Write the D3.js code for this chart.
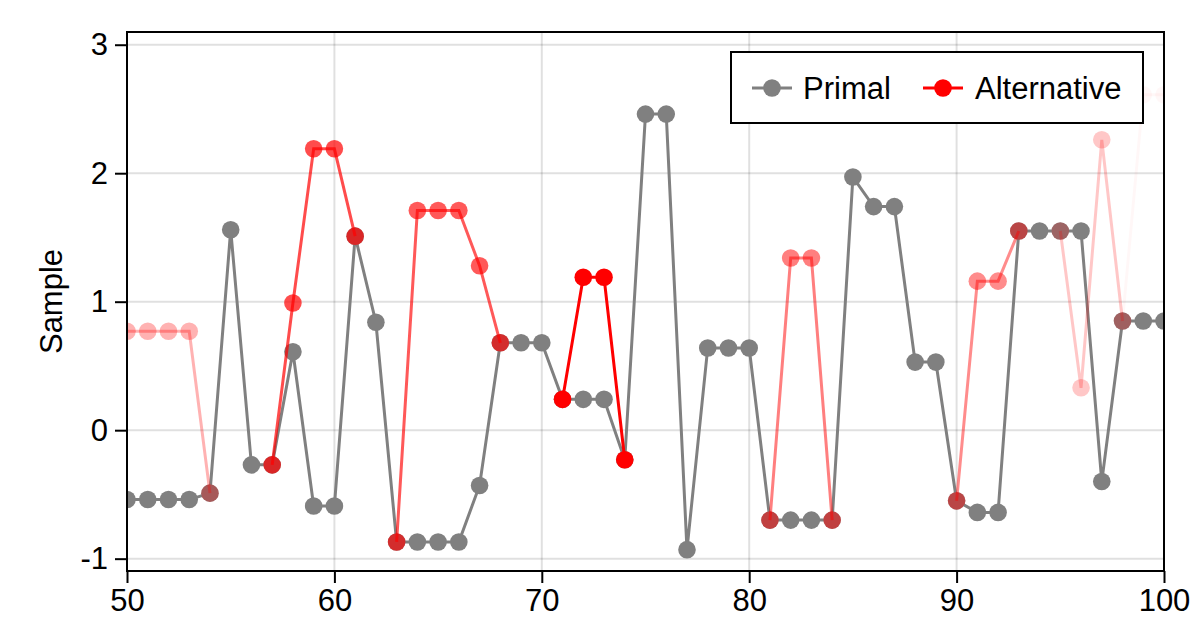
<!DOCTYPE html>
<html>
<head>
<meta charset="utf-8">
<script src="https://cdn.jsdelivr.net/npm/d3@7"></script>
<style>
  body { margin: 0; background: #fff; }
  text { font-family: "Liberation Sans", Arial, sans-serif; fill: #000; }
</style>
</head>
<body>
<div id="container"></div>
<script>
/* CONSTANTS AND GLOBALS */
const width = 1196,
  height = 620,
  margin = { top: 32, bottom: 49, left: 127, right: 32 };

// x positions (sample index) 50..100
const steps = [50, 51, 52, 53, 54, 55, 56, 57, 58, 59, 60, 61, 62, 63, 64, 65, 66, 67, 68, 69, 70,
  71, 72, 73, 74, 75, 76, 77, 78, 79, 80, 81, 82, 83, 84, 85, 86, 87, 88, 89, 90,
  91, 92, 93, 94, 95, 96, 97, 98, 99, 100];

// primal chain
const primal = [-0.54, -0.54, -0.54, -0.54, -0.49, 1.56, -0.27, -0.27, 0.61, -0.59, -0.59,
  1.51, 0.84, -0.87, -0.87, -0.87, -0.87, -0.43, 0.68, 0.68, 0.68,
  0.24, 0.24, 0.24, -0.23, 2.46, 2.46, -0.93, 0.64, 0.64, 0.64,
  -0.70, -0.70, -0.70, -0.70, 1.97, 1.74, 1.74, 0.53, 0.53, -0.55,
  -0.64, -0.64, 1.55, 1.55, 1.55, 1.55, -0.40, 0.85, 0.85, 0.85];

// alternative chain pieces: first step of each piece and its values
const altStart = [50, 57, 63, 71, 81, 90, 95, 98];
const altValues = [
  [0.77, 0.77, 0.77, 0.77, -0.49],
  [-0.27, 0.99, 2.19, 2.19, 1.51],
  [-0.87, 1.71, 1.71, 1.71, 1.28, 0.68],
  [0.24, 1.19, 1.19, -0.23],
  [-0.70, 1.34, 1.34, -0.70],
  [-0.55, 1.16, 1.16, 1.55],
  [1.55, 0.33, 2.26, 0.85],
  [0.85, 2.61, 2.61]
];
const altAlpha = [0.3, 0.7, 0.65, 1, 0.5, 0.45, 0.22, 0.03];

const xTicks = [50, 60, 70, 80, 90, 100];
const yTicks = [-1, 0, 1, 2, 3];

const svg = d3.select("#container")
  .append("svg")
  .attr("width", width)
  .attr("height", height);

const x = d3.scaleLinear()
  .domain([50, 100])
  .range([margin.left, width - margin.right]);

const y = d3.scaleLinear()
  .domain([-1.096, 3.099])
  .range([height - margin.bottom, margin.top]);

const pw = width - margin.right - margin.left,
  ph = height - margin.bottom - margin.top;

// GRID
svg.append("g")
  .selectAll("line.vg")
  .data(xTicks)
  .join("line")
  .attr("x1", d => x(d)).attr("x2", d => x(d))
  .attr("y1", margin.top).attr("y2", height - margin.bottom)
  .attr("stroke", "rgba(0,0,0,0.12)")
  .attr("stroke-width", 2);

svg.append("g")
  .selectAll("line.hg")
  .data(yTicks)
  .join("line")
  .attr("y1", d => y(d)).attr("y2", d => y(d))
  .attr("x1", margin.left).attr("x2", width - margin.right)
  .attr("stroke", "rgba(0,0,0,0.12)")
  .attr("stroke-width", 2);

svg.append("clipPath")
  .attr("id", "plotclip")
  .append("rect")
  .attr("x", margin.left).attr("y", margin.top)
  .attr("width", pw).attr("height", ph);

const plot = svg.append("g").attr("clip-path", "url(#plotclip)");

const line = d3.line()
  .x(d => x(d[0]))
  .y(d => y(d[1]));

// PRIMAL
const primalPts = steps.map((s, i) => [s, primal[i]]);
plot.append("path")
  .datum(primalPts)
  .attr("fill", "none")
  .attr("stroke", "rgb(128,128,128)")
  .attr("stroke-width", 3)
  .attr("d", line);

plot.selectAll(".pdot")
  .data(primalPts)
  .join("circle")
  .attr("class", "pdot")
  .attr("cx", d => x(d[0]))
  .attr("cy", d => y(d[1]))
  .attr("r", 8.8)
  .attr("fill", "rgb(128,128,128)");

// ALTERNATIVE
altValues.forEach((vals, k) => {
  const pts = vals.map((v, i) => [altStart[k] + i, v]);
  const g = plot.append("g");
  g.append("path")
    .datum(pts)
    .attr("fill", "none")
    .attr("stroke", "red")
    .attr("stroke-opacity", altAlpha[k])
    .attr("stroke-width", 3)
    .attr("d", line);
  g.selectAll("circle")
    .data(pts)
    .join("circle")
    .attr("cx", d => x(d[0]))
    .attr("cy", d => y(d[1]))
    .attr("r", 8.8)
    .attr("fill", "red")
    .attr("fill-opacity", altAlpha[k]);
});

// FRAME + AXES
svg.append("rect")
  .attr("x", margin.left).attr("y", margin.top)
  .attr("width", pw).attr("height", ph)
  .attr("fill", "none")
  .attr("stroke", "#000")
  .attr("stroke-width", 2);

const xAxis = d3.axisBottom(x)
  .tickValues(xTicks)
  .tickSize(12)
  .tickPadding(6)
  .tickFormat(d => String(d));

svg.append("g")
  .attr("transform", `translate(0,${height - margin.bottom})`)
  .call(xAxis)
  .call(g => g.select(".domain").remove())
  .call(g => g.selectAll("line").attr("stroke", "#000").attr("stroke-width", 2))
  .call(g => g.selectAll("text")
    .style("font-family", "Liberation Sans, Arial, sans-serif")
    .style("font-size", "31px"));

const yAxis = d3.axisLeft(y)
  .tickValues(yTicks)
  .tickSize(12)
  .tickPadding(7)
  .tickFormat(d => String(d));

svg.append("g")
  .attr("transform", `translate(${margin.left},0)`)
  .call(yAxis)
  .call(g => g.select(".domain").remove())
  .call(g => g.selectAll("line").attr("stroke", "#000").attr("stroke-width", 2))
  .call(g => g.selectAll("text")
    .style("font-family", "Liberation Sans, Arial, sans-serif")
    .style("font-size", "31px"));

svg.append("text")
  .attr("transform", `translate(62,${margin.top + ph / 2}) rotate(-90)`)
  .attr("text-anchor", "middle")
  .style("font-size", "31px")
  .text("Sample");

// LEGEND
const legend = svg.append("g").attr("transform", "translate(731,52)");
legend.append("rect")
  .attr("width", 412).attr("height", 71)
  .attr("fill", "#fff")
  .attr("stroke", "#000")
  .attr("stroke-width", 2);

const legendItems = [
  { label: "Primal", color: "rgb(128,128,128)", x0: 21, tx: 72 },
  { label: "Alternative", color: "red", x0: 192, tx: 244 }
];

legendItems.forEach(it => {
  legend.append("line")
    .attr("x1", it.x0).attr("x2", it.x0 + 40)
    .attr("y1", 36).attr("y2", 36)
    .attr("stroke", it.color)
    .attr("stroke-width", 3);
  legend.append("circle")
    .attr("cx", it.x0 + 20).attr("cy", 36)
    .attr("r", 8.8)
    .attr("fill", it.color);
  legend.append("text")
    .attr("x", it.tx).attr("y", 47)
    .style("font-size", "31px")
    .text(it.label);
});
</script>
</body>
</html>
